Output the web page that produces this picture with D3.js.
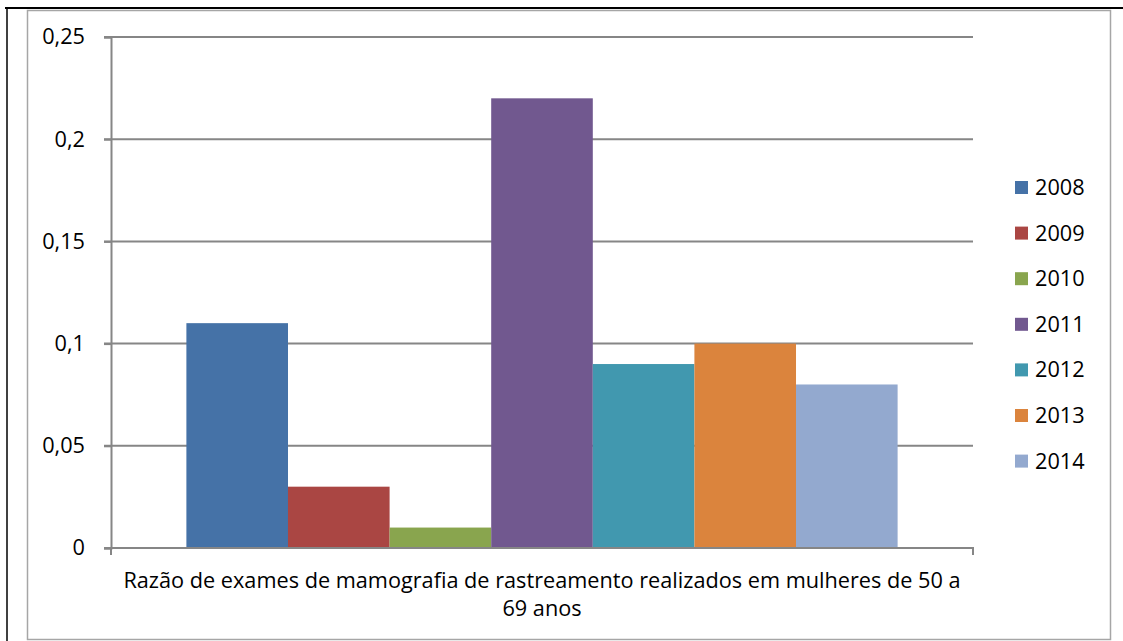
<!DOCTYPE html>
<html><head><meta charset="utf-8">
<script src="https://cdn.jsdelivr.net/npm/d3@7"></script>
<style>body{margin:0;background:#fff}svg{display:block}text{font-family:"Open Sans",sans-serif;fill:#000}</style>
</head><body>
<svg id="c" width="1123" height="641"></svg>
<script>
const category = "Razão de exames de mamografia de rastreamento realizados em mulheres de 50 a 69 anos";
const titleLines = ["Razão de exames de mamografia de rastreamento realizados em mulheres de 50 a", "69 anos"];
const years = ["2008","2009","2010","2011","2012","2013","2014"];
const values = [0.11, 0.03, 0.01, 0.22, 0.09, 0.10, 0.08];
const colors = ["#4572A7","#AA4643","#89A54E","#71588F","#4198AF","#DB843D","#93A9CF"];
const yTicks = [0, 0.05, 0.1, 0.15, 0.2, 0.25];
const yTickLabels = ["0","0,05","0,1","0,15","0,2","0,25"];

(function(){
const FS = "21.7px";
const svg = d3.select("#c");
// outer frames
svg.append("line").attr("x1",5).attr("x2",1123).attr("y1",8).attr("y2",8).attr("stroke","#000").attr("stroke-width",2);
svg.append("line").attr("x1",7).attr("x2",7).attr("y1",8).attr("y2",641).attr("stroke","#000").attr("stroke-width",1.5);
svg.append("rect").attr("x",27.5).attr("y",10.5).attr("width",1083).attr("height",629).attr("fill","none").attr("stroke","#a6a6a6").attr("stroke-width",1.5);

const pL = 111, pR = 973, pT = 37, pB = 548;
const y = d3.scaleLinear().domain([0,0.25]).range([pB, pT]);
const x0 = d3.scaleBand().domain([category]).range([pL,pR]).paddingInner(0).paddingOuter(0.106);
const x1 = d3.scaleBand().domain(years).range([0, x0.bandwidth()]).padding(0);

// gridlines
svg.append("g").selectAll("line").data(yTicks.slice(1)).join("line")
  .attr("x1",pL-7).attr("x2",pR).attr("y1",d=>y(d)).attr("y2",d=>y(d))
  .attr("stroke","#868686").attr("stroke-width",2);

// bars
svg.append("g").selectAll("rect").data(years).join("rect")
  .attr("x",(d)=>x0(category)+x1(d)).attr("width",x1.bandwidth())
  .attr("y",(d,i)=>y(values[i])).attr("height",(d,i)=>y(0)-y(values[i]))
  .attr("fill",(d,i)=>colors[i]);

// y axis
const yAxis = d3.axisLeft(y).tickValues(yTicks).tickFormat((d,i)=>yTickLabels[i]).tickSize(7).tickPadding(19);
const gy = svg.append("g").attr("transform",`translate(${pL},0)`).call(yAxis);
gy.select(".domain").attr("stroke","#868686").attr("stroke-width",2);
gy.selectAll(".tick line").attr("stroke","#868686").attr("stroke-width",2);
gy.selectAll(".tick text").style("font-size",FS).style("font-family","'Open Sans',sans-serif").attr("fill","#000");

// x axis
svg.append("line").attr("x1",pL-7).attr("x2",pR+1).attr("y1",pB).attr("y2",pB).attr("stroke","#868686").attr("stroke-width",2);
svg.append("g").selectAll("line").data([pL,pR]).join("line")
  .attr("x1",d=>d).attr("x2",d=>d).attr("y1",pB).attr("y2",pB+7)
  .attr("stroke","#868686").attr("stroke-width",2);

const tx = x0(category)+x0.bandwidth()/2;
svg.append("text").attr("text-anchor","middle").style("font-size",FS)
  .selectAll("tspan").data(titleLines).join("tspan")
  .attr("x",tx).attr("y",(d,i)=>588+i*28).text(d=>d);

// legend
const leg = svg.append("g").selectAll("g").data(years).join("g")
  .attr("transform",(d,i)=>`translate(1015,${187+i*45.6})`);
leg.append("rect").attr("x",0).attr("y",-6).attr("width",13).attr("height",13).attr("fill",(d,i)=>colors[i]);
leg.append("text").attr("x",20).attr("y",8).style("font-size",FS).text(d=>d);
})();
</script>
</body></html>
